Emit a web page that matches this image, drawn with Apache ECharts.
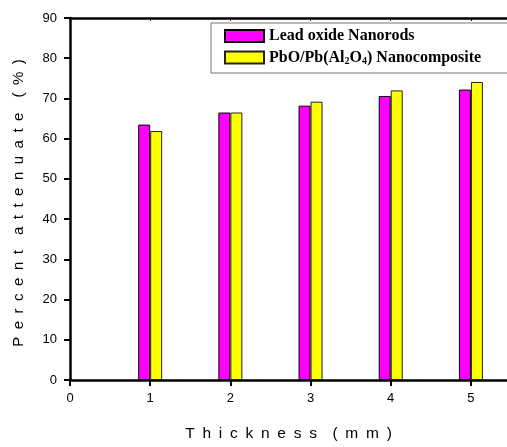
<!DOCTYPE html>
<html>
<head>
<meta charset="utf-8">
<script src="https://cdn.jsdelivr.net/npm/echarts@6/dist/echarts.min.js"></script>
<style>
  html, body { margin: 0; padding: 0; background: #fff; }
  #main { width: 507px; height: 447px; }
</style>
</head>
<body>
<div id="main"></div>
<script>
// thickness in mm
const thickness = [1, 2, 3, 4, 5];
const leadOxide = [63.5, 66.5, 68.2, 70.6, 72.2];
const composite = [61.9, 66.5, 69.2, 72.0, 74.1];
const seriesNames = ['Lead oxide Nanorods', 'PbO/Pb(Al2O4) Nanocomposite'];

// spread letters out like the original axis titles
const spaced = s => s.split(' ').map(w => w.split('').join('\u2002')).join('\u2002\u2002');

const chartDom = document.getElementById('main');
const myChart = echarts.init(chartDom);

const toPairs = vals => vals.map((v, i) => [thickness[i], v]);

const option = {
  animation: false,
  grid: { left: 70, top: 18, width: 439, height: 364 },
  legend: {
    left: 211, top: 23,
    orient: 'vertical',
    icon: 'rect',
    itemWidth: 39, itemHeight: 12, itemGap: 5,
    padding: [5, 60, 7, 13],
    borderColor: '#777', borderWidth: 1,
    backgroundColor: '#fff',
    data: seriesNames,
    formatter: name => name === seriesNames[0]
      ? '{b|' + name + '}'
      : '{b|PbO/Pb(Al}{s|2}{b|O}{s|4}{b|) Nanocomposite}',
    textStyle: {
      rich: {
        b: { fontFamily: 'Liberation Serif', fontWeight: 'bold', fontSize: 16, lineHeight: 17, color: '#000' },
        s: { fontFamily: 'Liberation Serif', fontWeight: 'bold', fontSize: 10, lineHeight: 17, color: '#000', verticalAlign: 'bottom', padding: [7, 0, 0, 0] }
      }
    }
  },
  xAxis: [{
    type: 'value', min: 0, max: 5.45, interval: 1,
    splitLine: { show: false },
    axisLine: { lineStyle: { color: '#000', width: 2.5 } },
    axisTick: { length: 6, lineStyle: { color: '#000', width: 2 } },
    axisLabel: { color: '#000', fontFamily: 'Liberation Sans', fontSize: 13, margin: 12, showMaxLabel: false },
    name: spaced('Thickness (mm)'),
    nameLocation: 'middle', nameGap: 46,
    nameTextStyle: { color: '#000', fontFamily: 'Liberation Sans', fontSize: 15.5 }
  }, {
    type: 'value', position: 'top', min: 0, max: 5.45, interval: 1,
    splitLine: { show: false },
    axisLine: { onZero: false, lineStyle: { color: '#000', width: 2.5 } },
    axisTick: { inside: true, length: 3, lineStyle: { color: '#000', width: 1 } },
    axisLabel: { show: false }
  }],
  yAxis: {
    type: 'value', min: 0, max: 90, interval: 10,
    splitLine: { show: false },
    axisLine: { show: true, lineStyle: { color: '#000', width: 2.5 } },
    axisTick: { show: true, length: 6, lineStyle: { color: '#000', width: 2 } },
    axisLabel: { color: '#000', fontFamily: 'Liberation Sans', fontSize: 13, margin: 13 },
    name: spaced('Percent attenuate (%)'),
    nameLocation: 'middle', nameGap: 44,
    nameTextStyle: { color: '#000', fontFamily: 'Liberation Sans', fontSize: 15, padding: [0, 8, 0, 0] }
  },
  series: [{
    name: seriesNames[0],
    type: 'bar',
    barWidth: 12, barGap: '0%',
    itemStyle: { color: '#ff00ff', borderColor: '#000', borderWidth: 1 },
    data: toPairs(leadOxide)
  }, {
    name: seriesNames[1],
    type: 'bar',
    barWidth: 12, barGap: '0%',
    itemStyle: { color: '#ffff00', borderColor: '#222', borderWidth: 1 },
    data: toPairs(composite)
  }]
};

option && myChart.setOption(option);
</script>
</body>
</html>
